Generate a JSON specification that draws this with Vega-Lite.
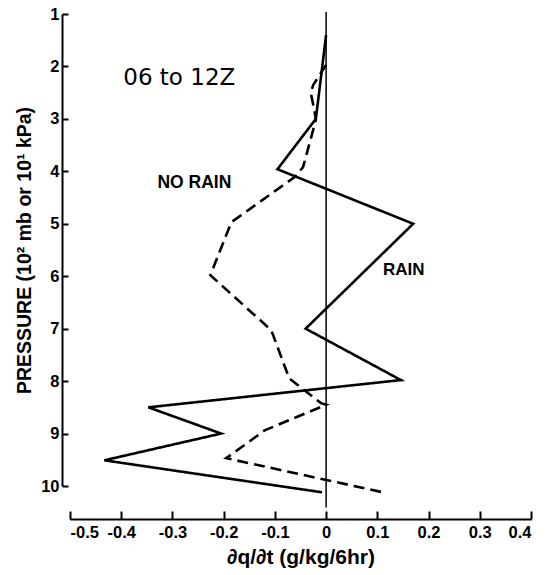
{
  "$schema": "https://vega.github.io/schema/vega-lite/v6.json",
  "autosize": "none",
  "padding": {"left": 70, "top": 14, "right": 21, "bottom": 89},
  "width": 461,
  "height": 472,
  "background": "white",
  "config": {
    "view": {"stroke": null},
    "axis": {
      "grid": false,
      "labelFont": "Liberation Sans",
      "labelFontWeight": "bold",
      "labelFontSize": 16.5,
      "labelColor": "black",
      "domainColor": "black",
      "domainWidth": 2,
      "tickColor": "black",
      "tickWidth": 2,
      "titleFont": "Liberation Sans",
      "titleFontWeight": "bold",
      "titleColor": "black"
    }
  },
  "datasets": {
    "profiles": [
      {"series": "RAIN", "i": 1, "dqdt": 0.0, "p": 1.4},
      {"series": "RAIN", "i": 2, "dqdt": -0.02, "p": 3.0},
      {"series": "RAIN", "i": 3, "dqdt": -0.095, "p": 3.96},
      {"series": "RAIN", "i": 4, "dqdt": 0.17, "p": 5.0},
      {"series": "RAIN", "i": 5, "dqdt": -0.04, "p": 7.0},
      {"series": "RAIN", "i": 6, "dqdt": 0.146, "p": 7.98},
      {"series": "RAIN", "i": 7, "dqdt": -0.347, "p": 8.5},
      {"series": "RAIN", "i": 8, "dqdt": -0.205, "p": 9.0},
      {"series": "RAIN", "i": 9, "dqdt": -0.433, "p": 9.51},
      {"series": "RAIN", "i": 10, "dqdt": -0.008, "p": 10.12},
      {"series": "NO RAIN", "i": 1, "dqdt": 0.0, "p": 1.97},
      {"series": "NO RAIN", "i": 2, "dqdt": -0.025, "p": 2.35},
      {"series": "NO RAIN", "i": 3, "dqdt": -0.03, "p": 2.5},
      {"series": "NO RAIN", "i": 4, "dqdt": -0.023, "p": 2.83},
      {"series": "NO RAIN", "i": 5, "dqdt": -0.02, "p": 3.02},
      {"series": "NO RAIN", "i": 6, "dqdt": -0.045, "p": 3.92},
      {"series": "NO RAIN", "i": 7, "dqdt": -0.06, "p": 4.1},
      {"series": "NO RAIN", "i": 8, "dqdt": -0.185, "p": 4.97},
      {"series": "NO RAIN", "i": 9, "dqdt": -0.226, "p": 5.98},
      {"series": "NO RAIN", "i": 10, "dqdt": -0.107, "p": 7.03},
      {"series": "NO RAIN", "i": 11, "dqdt": -0.072, "p": 7.95},
      {"series": "NO RAIN", "i": 12, "dqdt": -0.01, "p": 8.42},
      {"series": "NO RAIN", "i": 13, "dqdt": 0.0, "p": 8.45},
      {"series": "NO RAIN", "i": 14, "dqdt": -0.12, "p": 8.94},
      {"series": "NO RAIN", "i": 15, "dqdt": -0.195, "p": 9.47},
      {"series": "NO RAIN", "i": 16, "dqdt": 0.111, "p": 10.12}
    ],
    "zero": [{"x": 0, "y": 0.96, "y2": 10.41}],
    "labels": [
      {"text": "06 to 12Z", "x": -0.396, "y": 2.22, "kind": "title"},
      {"text": "NO RAIN", "x": -0.185, "y": 4.23, "kind": "right"},
      {"text": "RAIN", "x": 0.111, "y": 5.89, "kind": "left"}
    ]
  },
  "layer": [
    {
      "data": {"name": "zero"},
      "mark": {"type": "rule", "color": "black", "strokeWidth": 1.5},
      "encoding": {
        "x": {"field": "x", "type": "quantitative", "scale": {"domain": [-0.5, 0.4], "nice": false, "zero": false}},
        "y": {"field": "y", "type": "quantitative"},
        "y2": {"field": "y2"}
      }
    },
    {
      "data": {"name": "profiles"},
      "mark": {"type": "line", "color": "black", "strokeWidth": 2.6, "strokeJoin": "miter", "strokeCap": "butt"},
      "encoding": {
        "x": {
          "field": "dqdt", "type": "quantitative",
          "scale": {"domain": [-0.5, 0.4], "nice": false, "zero": false},
          "axis": {
            "values": [-0.5, -0.4, -0.3, -0.2, -0.1, 0, 0.1, 0.2, 0.3, 0.4],
            "labelExpr": "datum.value == 0 ? '0' : replace(format(datum.value, '.1f'), '−', '-')",
            "offset": 33,
            "tickSize": -8,
            "labelPadding": 13,
            "title": "∂q/∂t (g/kg/6hr)",
            "titleFontSize": 21,
            "titlePadding": 6
          }
        },
        "y": {
          "field": "p", "type": "quantitative",
          "scale": {"domain": [1, 10], "reverse": true, "nice": false, "zero": false},
          "axis": {
            "values": [1, 2, 3, 4, 5, 6, 7, 8, 9, 10],
            "offset": 8,
            "tickSize": -6,
            "labelPadding": 9,
            "title": "PRESSURE (10² mb or 10¹ kPa)",
            "titleFontSize": 19.5,
            "titlePadding": 6
          }
        },
        "order": {"field": "i", "type": "quantitative"},
        "detail": {"field": "series"},
        "strokeDash": {
          "field": "series", "type": "nominal",
          "scale": {"domain": ["RAIN", "NO RAIN"], "range": [[1, 0], [11, 6]]},
          "legend": null
        }
      }
    },
    {
      "data": {"name": "labels"},
      "transform": [{"filter": "datum.kind == 'title'"}],
      "mark": {"type": "text", "align": "left", "baseline": "middle", "font": "DejaVu Sans", "fontSize": 23, "color": "black"},
      "encoding": {
        "x": {"field": "x", "type": "quantitative"},
        "y": {"field": "y", "type": "quantitative"},
        "text": {"field": "text"}
      }
    },
    {
      "data": {"name": "labels"},
      "transform": [{"filter": "datum.kind == 'right'"}],
      "mark": {"type": "text", "align": "right", "baseline": "middle", "font": "Liberation Sans", "fontWeight": "bold", "fontSize": 17.5, "color": "black"},
      "encoding": {
        "x": {"field": "x", "type": "quantitative"},
        "y": {"field": "y", "type": "quantitative"},
        "text": {"field": "text"}
      }
    },
    {
      "data": {"name": "labels"},
      "transform": [{"filter": "datum.kind == 'left'"}],
      "mark": {"type": "text", "align": "left", "baseline": "middle", "font": "Liberation Sans", "fontWeight": "bold", "fontSize": 17, "color": "black"},
      "encoding": {
        "x": {"field": "x", "type": "quantitative"},
        "y": {"field": "y", "type": "quantitative"},
        "text": {"field": "text"}
      }
    }
  ]
}
